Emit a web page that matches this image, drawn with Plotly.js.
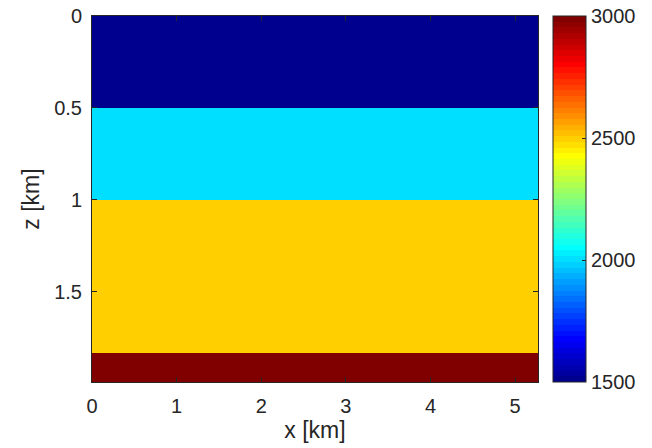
<!DOCTYPE html>
<html>
<head>
<meta charset="utf-8">
<script src="https://cdn.plot.ly/plotly-3.0.1.min.js"></script>
<style>html,body{margin:0;padding:0;background:#fff;}#chart{width:652px;height:448px;}</style>
</head>
<body>
<div id="chart"></div>
<script>
// Velocity model data (imagesc-style)
const xEdges = [0, 5.27];                    // x extent [km]
const zEdges = [0, 0.5, 1.0, 1.83, 1.99];    // layer boundaries [km]
const velocities = [1500, 2000, 2500, 3000]; // layer values
const xTicks = [0, 1, 2, 3, 4, 5];
const zTicks = [0, 0.5, 1, 1.5];
const zTickText = ['0', '0.5', '1', '1.5'];
const cbTicks = [1500, 2000, 2500, 3000];

// MATLAB jet(64) colormap, reproduced exactly, as a stepped colorscale
function jet64() {
  const m = 64, n = 16;
  const u = [];
  for (let i = 1; i <= n; i++) u.push(i / n);
  for (let i = 1; i < n; i++) u.push(1);
  for (let i = n; i >= 1; i--) u.push(i / n);
  const R = new Array(m).fill(0), G = new Array(m).fill(0), B = new Array(m).fill(0);
  for (let k = 1; k <= u.length; k++) {
    const g = 8 + k, r = g + n, b = g - n;
    if (g >= 1 && g <= m) G[g - 1] = u[k - 1];
    if (r >= 1 && r <= m) R[r - 1] = u[k - 1];
    if (b >= 1 && b <= m) B[b - 1] = u[k - 1];
  }
  const out = [];
  for (let i = 0; i < m; i++) {
    out.push('rgb(' + Math.round(R[i] * 255) + ',' + Math.round(G[i] * 255) + ',' + Math.round(B[i] * 255) + ')');
  }
  return out;
}
const cmap = jet64();
const colorscale = [];
cmap.forEach((col, i) => {
  colorscale.push([i / cmap.length, col]);
  colorscale.push([(i + 1) / cmap.length, col]);
});

const zMatrix = velocities.map(v => [v]);

const font = {family: 'Liberation Sans, Arial, Helvetica, sans-serif', size: 20, color: '#262626'};
const titleFont = {family: font.family, size: 23, color: '#262626'};

const trace = {
  type: 'heatmap',
  x: xEdges,
  y: zEdges,
  z: zMatrix,
  zmin: 1500,
  zmax: 3000,
  colorscale: colorscale,
  zsmooth: false,
  hoverinfo: 'skip',
  colorbar: {
    x: 1.0336, xanchor: 'left', xpad: 0,
    y: 0.5, yanchor: 'middle', ypad: 0,
    len: 1, lenmode: 'fraction',
    thickness: 33, thicknessmode: 'pixels',
    outlinewidth: 1, outlinecolor: '#262626',
    tickvals: cbTicks,
    ticks: 'inside', ticklen: 4, tickcolor: '#262626',
    tickfont: font,
    ticklabelstandoff: 6
  }
};

const layout = {
  width: 652, height: 448,
  margin: {l: 92, r: 114, t: 16, b: 66, pad: 0},
  paper_bgcolor: '#fff', plot_bgcolor: '#fff',
  font: font,
  xaxis: {
    range: [0, 5.27],
    tickvals: xTicks,
    ticks: 'inside', ticklen: 5, tickcolor: '#262626',
    showline: true, linecolor: '#262626', linewidth: 1, mirror: 'ticks',
    showgrid: false, zeroline: false,
    tickfont: font,
    ticklabelstandoff: 6,
    title: {text: 'x [km]', font: titleFont, standoff: 4}
  },
  yaxis: {
    range: [1.99, 0],
    tickvals: zTicks,
    ticktext: zTickText,
    ticks: 'inside', ticklen: 5, tickcolor: '#262626',
    showline: true, linecolor: '#262626', linewidth: 1, mirror: 'ticks',
    showgrid: false, zeroline: false,
    tickfont: font,
    ticklabelstandoff: 5,
    title: {text: 'z [km]', font: titleFont, standoff: 8}
  }
};

Plotly.newPlot('chart', [trace], layout, {displayModeBar: false, staticPlot: true});
</script>
</body>
</html>
